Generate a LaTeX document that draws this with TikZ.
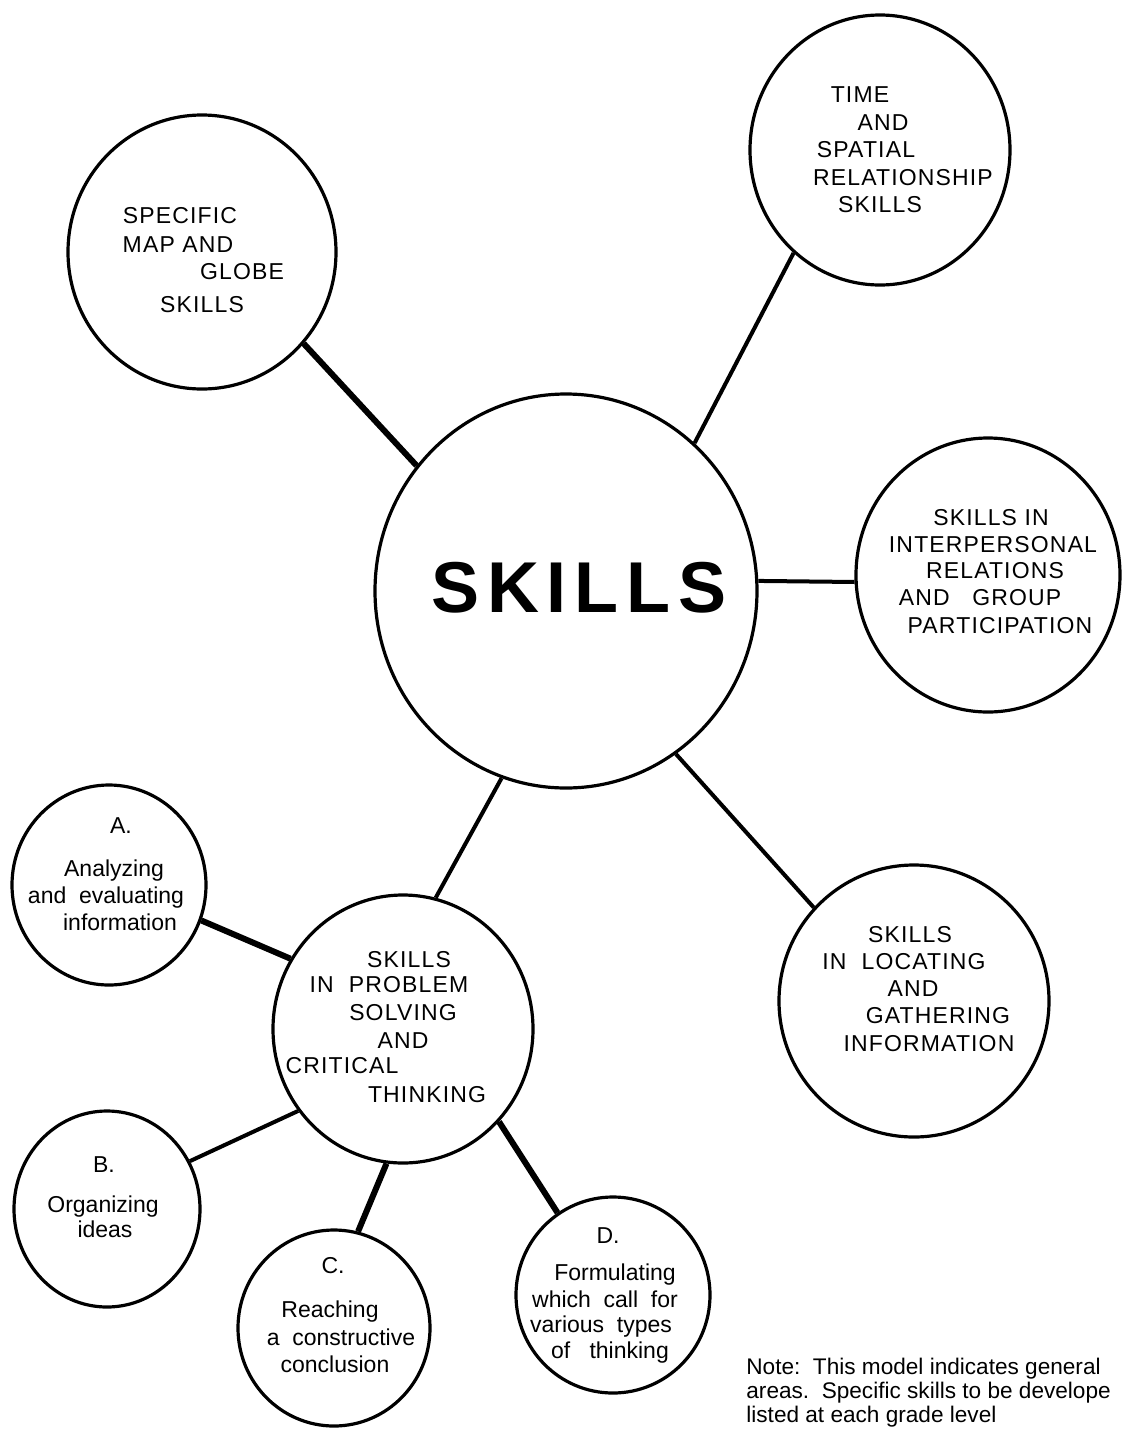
\documentclass[tikz,border=0pt]{standalone}
\usepackage{fontspec}
\setmainfont{Liberation Sans}
\newfontfamily\capsfam[LetterSpace=5]{Liberation Sans}
\newfontfamily\bigfam[LetterSpace=11]{Liberation Sans}
\usetikzlibrary{shapes.geometric}
\begin{document}
\begin{tikzpicture}[x=0.5pt,y=-0.5pt,
  bub/.style={draw, ellipse, line width=1.6pt, inner sep=0pt},
  caps/.style={font=\capsfam\fontsize{11.5}{13.5}\selectfont, anchor=base, inner sep=0pt},
  low/.style={font=\fontsize{11.5}{13.5}\selectfont, anchor=base, inner sep=0pt},
  conn/.style={line width=2pt},
  heavy/.style={line width=3pt},
  notetext/.style={font=\fontsize{11.3}{13.5}\selectfont, anchor=base west, inner sep=0pt}]
\useasboundingbox (0,0) rectangle (1122,1430);
\fill[white] (0,0) rectangle (1122,1430);

% bubbles
\node[bub, minimum width=134pt, minimum height=137pt] (map) at (202,252) {};
\node[bub, minimum width=130pt, minimum height=135pt] (time) at (880,150) {};
\node[bub, minimum width=191pt, minimum height=197pt] (skills) at (566,591) {};
\node[bub, minimum width=132pt, minimum height=137pt] (inter) at (988,575) {};
\node[bub, minimum width=135pt, minimum height=136pt] (locate) at (914,1001) {};
\node[bub, minimum width=130pt, minimum height=134pt] (problem) at (403,1029) {};
\node[bub, minimum width=97pt, minimum height=100pt] (ca) at (109,885) {};
\node[bub, minimum width=93pt, minimum height=98pt] (cb) at (107,1209) {};
\node[bub, minimum width=96pt, minimum height=98pt] (cc) at (334,1328) {};
\node[bub, minimum width=97pt, minimum height=98pt] (cd) at (613,1295) {};

% connectors
\draw[heavy] (map.-42.3) -- (skills.140.4);
\draw[conn] (skills.49.3) -- (time.230.4);
\draw[conn] (skills.3.9) -- (inter.183);
\draw[conn] (skills.-56.4) -- (locate.137.4);
\draw[conn] (skills.-109.5) -- (problem.76.7);
\draw[heavy] (ca.-21.3) -- (problem.148.7);
\draw[conn] (problem.218.1) -- (cb.30.1);
\draw[heavy] (problem.-97.7) -- (cc.76.2);
\draw[heavy] (problem.-44.4) -- (cd.124.8);

% central word
\node[font=\bigfam\bfseries\fontsize{36}{40}\selectfont, anchor=base, inner sep=0pt] (bigword) at (579,612) {SKILLS};

% map bubble text
\node[caps] (m1) at (180,223) {SPECIFIC};
\node[caps] (m2) at (178,252) {MAP AND};
\node[caps] (m3) at (242,279) {GLOBE};
\node[caps] (m4) at (202,312) {SKILLS};

% time bubble text
\node[caps] (t1) at (860,102) {TIME};
\node[caps] (t2) at (883,130) {AND};
\node[caps] (t3) at (866,157) {SPATIAL};
\node[caps] (t4) at (903,185) {RELATIONSHIP};
\node[caps] (t5) at (880,212) {SKILLS};

% interpersonal bubble text
\node[caps] (i1) at (991,525) {SKILLS\ IN};
\node[caps] (i2) at (993,552) {INTERPERSONAL};
\node[caps] (i3) at (995,578) {RELATIONS};
\node[caps] (i4) at (980,605) {AND\ \ \ GROUP};
\node[caps] (i5) at (1000,633) {PARTICIPATION};

% locating bubble text
\node[caps] (l1) at (910,942) {SKILLS};
\node[caps] (l2) at (904,969) {IN\ \ LOCATING};
\node[caps] (l3) at (913,996) {AND};
\node[caps] (l4) at (938,1023) {GATHERING};
\node[caps] (l5) at (929,1051) {INFORMATION};

% problem bubble text
\node[caps] (p1) at (409,967) {SKILLS};
\node[caps] (p2) at (389,992) {IN\ \ PROBLEM};
\node[caps] (p3) at (403,1020) {SOLVING};
\node[caps] (p4) at (403,1048) {AND};
\node[caps] (p5) at (342,1073) {CRITICAL};
\node[caps] (p6) at (427,1102) {THINKING};

% A
\node[low] (a1) at (121,833) {A.};
\node[low] (a2) at (114,876) {Analyzing};
\node[low] (a3) at (106,903) {and\ \ evaluating};
\node[low] (a4) at (120,930) {information};

% B
\node[low] (b1) at (104,1172) {B.};
\node[low] (b2) at (103,1212) {Organizing};
\node[low] (b3) at (105,1237) {ideas};

% C
\node[low] (c1) at (333,1273) {C.};
\node[low] (c2) at (330,1317) {Reaching};
\node[low] (c3) at (341,1345) {a\ \ constructive};
\node[low] (c4) at (335,1372) {conclusion};

% D
\node[low] (d1) at (608,1243) {D.};
\node[low] (d2) at (615,1280) {Formulating};
\node[low] (d3) at (605,1307) {which\ \ call\ \ for};
\node[low] (d4) at (601,1332) {various\ \ types};
\node[low] (d5) at (610,1358) {of\ \ \ thinking};

% note
\node[notetext] (n1) at (746,1374) {Note:\ \ This model indicates general};
\node[notetext] (n2) at (746,1398) {areas.\ \ Specific skills to be develope};
\node[notetext] (n3) at (746,1422) {listed at each grade level};
\end{tikzpicture}
\end{document}
